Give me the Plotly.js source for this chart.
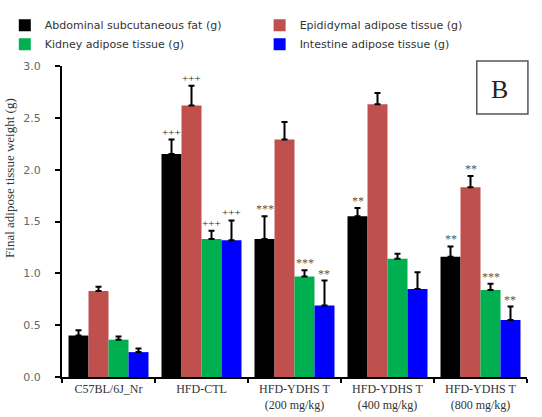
<!DOCTYPE html>
<html>
<head>
<meta charset="utf-8">
<script src="https://cdn.plot.ly/plotly-3.0.1.min.js"></script>
<style>
  html, body { margin: 0; padding: 0; background: #fff; }
  #chart { width: 542px; height: 417px; }
</style>
</head>
<body>
<div id="chart"></div>
<script>
// Treatment groups (x categories)
const groups = [
  'C57BL/6J_Nr',
  'HFD-CTL',
  'HFD-YDHS T<br>(200 mg/kg)',
  'HFD-YDHS T<br>(400 mg/kg)',
  'HFD-YDHS T<br>(800 mg/kg)'
];

// Series names
const seriesNames = [
  'Abdominal subcutaneous fat (g)',
  'Epididymal adipose tissue (g)',
  'Kidney adipose tissue (g)',
  'Intestine adipose tissue (g)'
];

// Mean weights (g)
const abdominal  = [0.40, 2.15, 1.33, 1.55, 1.16];
const epididymal = [0.83, 2.62, 2.29, 2.63, 1.83];
const kidney     = [0.36, 1.33, 0.97, 1.14, 0.84];
const intestine  = [0.24, 1.32, 0.69, 0.85, 0.55];

// Standard deviation (upper error bar)
const abdominalErr  = [0.05, 0.14, 0.22, 0.08, 0.10];
const epididymalErr = [0.04, 0.19, 0.17, 0.11, 0.11];
const kidneyErr     = [0.03, 0.08, 0.06, 0.05, 0.06];
const intestineErr  = [0.035, 0.19, 0.24, 0.16, 0.13];

// Significance marks
const abdominalSig  = ['', '+++', '***', '**', '**'];
const epididymalSig = ['', '+++', '', '', '**'];
const kidneySig     = ['', '+++', '***', '', '***'];
const intestineSig  = ['', '+++', '**', '', '**'];

const yTitle = 'Final adipose tissue weight (g)';

const colors = ['#000000', '#C0504D', '#00B050', '#0000FF'];
const means = [abdominal, epididymal, kidney, intestine];
const errs = [abdominalErr, epididymalErr, kidneyErr, intestineErr];
const sigs = [abdominalSig, epididymalSig, kidneySig, intestineSig];
const legendIds = ['legend', 'legend2', 'legend', 'legend2'];

const bargap = 0.14;
const nSeries = means.length;
const barW = (1 - bargap) / nSeries;

const traces = means.map((vals, j) => ({
  type: 'bar',
  name: seriesNames[j],
  x: groups,
  y: vals,
  marker: { color: colors[j], line: { width: 0 } },
  error_y: {
    type: 'data',
    symmetric: false,
    array: errs[j],
    arrayminus: vals.map(() => 0),
    color: '#000000',
    thickness: 2,
    width: 3
  },
  legend: legendIds[j],
  hoverinfo: 'x+y+name'
}));

const annotations = [];
sigs.forEach((marks, j) => {
  marks.forEach((m, i) => {
    if (!m) return;
    const plus = m.indexOf('+') >= 0;
    annotations.push({
      xref: 'x', yref: 'y',
      x: i + (j - (nSeries - 1) / 2) * barW,
      y: means[j][i] + errs[j][i],
      text: m,
      showarrow: false,
      yanchor: 'bottom',
      yshift: plus ? 0 : -2,
      font: { family: 'Liberation Serif, serif', size: plus ? 11 : 12, color: plus ? '#222' : '#555' }
    });
  });
});

// Panel label
annotations.push({
  xref: 'paper', yref: 'paper',
  x: 0.941, y: 0.925,
  text: 'B', showarrow: false,
  xanchor: 'center', yanchor: 'middle',
  font: { family: 'Liberation Serif, serif', size: 26, color: '#222' }
});

// Y-axis title, set a little above the axis centre
annotations.push({
  xref: 'paper', yref: 'paper',
  x: -0.112, y: 0.64,
  text: yTitle, showarrow: false, textangle: -90,
  xanchor: 'center', yanchor: 'middle',
  font: { family: 'Liberation Serif, serif', size: 13, color: '#333' }
});

const legendFont = { family: 'DejaVu Sans, Verdana, sans-serif', size: 11, color: '#333' };

const layout = {
  width: 542,
  height: 417,
  margin: { l: 62, r: 15, t: 66, b: 40, autoexpand: false },
  paper_bgcolor: '#ffffff',
  plot_bgcolor: '#ffffff',
  barmode: 'group',
  bargap: bargap,
  bargroupgap: 0,
  showlegend: true,
  legend: {
    x: -0.123, y: 1.178, xanchor: 'left', yanchor: 'top',
    orientation: 'v', font: legendFont, bgcolor: 'rgba(0,0,0,0)',
    itemwidth: 30, tracegroupgap: 0
  },
  legend2: {
    x: 0.425, y: 1.178, xanchor: 'left', yanchor: 'top',
    orientation: 'v', font: legendFont, bgcolor: 'rgba(0,0,0,0)',
    itemwidth: 30, tracegroupgap: 0
  },
  xaxis: {
    type: 'category',
    showline: true, linecolor: '#000', linewidth: 2,
    ticks: 'outside', tickson: 'boundaries', ticklen: 4, tickwidth: 2, tickcolor: '#000',
    tickfont: { family: 'Liberation Serif, serif', size: 12, color: '#333' },
    showgrid: false, zeroline: false, fixedrange: true
  },
  yaxis: {
    range: [0, 3],
    dtick: 0.5, tickformat: '.1f',
    showline: true, linecolor: '#000', linewidth: 2,
    ticks: 'outside', ticklen: 5, tickwidth: 2, tickcolor: '#000',
    ticklabelstandoff: 12,
    tickfont: { family: 'DejaVu Sans, Verdana, sans-serif', size: 11, color: '#666' },
    showgrid: false, zeroline: false, fixedrange: true
  },
  shapes: [{
    type: 'rect', xref: 'paper', yref: 'paper',
    x0: 0.892, x1: 1.002, y0: 0.846, y1: 1.016,
    line: { color: '#555', width: 1.5 }, fillcolor: 'rgba(0,0,0,0)'
  }],
  annotations: annotations
};

Plotly.newPlot('chart', traces, layout, { displayModeBar: false, staticPlot: true });
</script>
</body>
</html>
